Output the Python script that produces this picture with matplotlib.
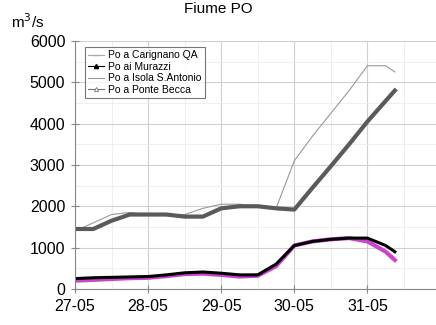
import matplotlib.pyplot as plt
from matplotlib.ticker import MultipleLocator
import numpy as np

plt.rcParams["font.family"] = ["Liberation Sans", "DejaVu Sans"]

# time in days since 27-05 00:00
days = [0, 0.25, 0.5, 0.75, 1, 1.25, 1.5, 1.75, 2, 2.25, 2.5, 2.75,
        3, 3.25, 3.5, 3.75, 4, 4.25, 4.375]
day_labels = ["27-05", "28-05", "29-05", "30-05", "31-05"]

carignano = [200, 220, 240, 260, 270, 310, 360, 370, 340, 300, 320, 550,
             1050, 1150, 1200, 1230, 1150, 900, 700]
murazzi = [250, 270, 280, 290, 300, 340, 390, 410, 380, 340, 340, 600,
           1050, 1150, 1200, 1230, 1230, 1050, 900]
isola = [1400, 1600, 1800, 1850, 1800, 1800, 1800, 1950, 2050, 2050, 2000,
         1950, 3100, 3700, 4250, 4800, 5400, 5400, 5250]
ponte_becca = [1450, 1450, 1650, 1800, 1800, 1800, 1750, 1750, 1950, 2000,
               2000, 1950, 1920, 2450, 2970, 3500, 4050, 4550, 4800]

fig = plt.figure(figsize=(4.36, 3.25), dpi=100)
ax = fig.add_axes([0.172, 0.111, 0.83, 0.763])

lines = []
lines += ax.plot(days, carignano, color="#cc44cc", lw=3, marker="_", ms=4,
                 label="Po a Carignano QA")
lines += ax.plot(days, murazzi, color="black", lw=2.2, marker="^", ms=3,
                 label="Po ai Murazzi")
lines += ax.plot(days, isola, color="#999999", lw=0.8,
                 label="Po a Isola S.Antonio")
lines += ax.plot(days, ponte_becca, color="#5a5a5a", lw=3, marker="^", ms=3,
                 mfc="white", mew=0.6, label="Po a Ponte Becca")

ax.set_xlim(0, 4.95)
ax.set_ylim(0, 6000)
ax.set_xticks(np.arange(len(day_labels)))
ax.set_xticklabels(day_labels)
ax.xaxis.set_minor_locator(MultipleLocator(0.5))
ax.yaxis.set_major_locator(MultipleLocator(1000))
ax.yaxis.set_minor_locator(MultipleLocator(500))
ax.grid(which="major", color="#d0d0d0", lw=0.8)
ax.grid(which="minor", color="#ececec", lw=0.6)
ax.tick_params(which="both", direction="inout", length=6, color="#888888",
               labelsize=11.5, pad=4)
ax.tick_params(which="minor", length=0)
for s in ["top", "right"]:
    ax.spines[s].set_visible(False)
for s in ["left", "bottom"]:
    ax.spines[s].set_color("#888888")

leg = ax.legend(loc="upper left", bbox_to_anchor=(0.028, 0.975), fontsize=7.5,
                frameon=True, fancybox=False, edgecolor="#555555",
                borderpad=0.3, labelspacing=0.15, handlelength=1.5,
                handletextpad=0.4, borderaxespad=0)
leg.get_frame().set_linewidth(0.8)
legend_colors = ["#aaaaaa", "black", "#999999", "#777777"]
for line, c in zip(leg.get_lines(), legend_colors):
    line.set_linewidth(0.8)
    line.set_color(c)
# markers only in the legend, not on the data lines
for line in lines:
    line.set_marker("None")

fig.text(0.5, 0.995, "Fiume PO", ha="center", va="top", fontsize=11)
fig.text(0.025, 0.905, "m$^3$/s", ha="left", va="bottom", fontsize=11)

fig.savefig("out.png", dpi=100)
